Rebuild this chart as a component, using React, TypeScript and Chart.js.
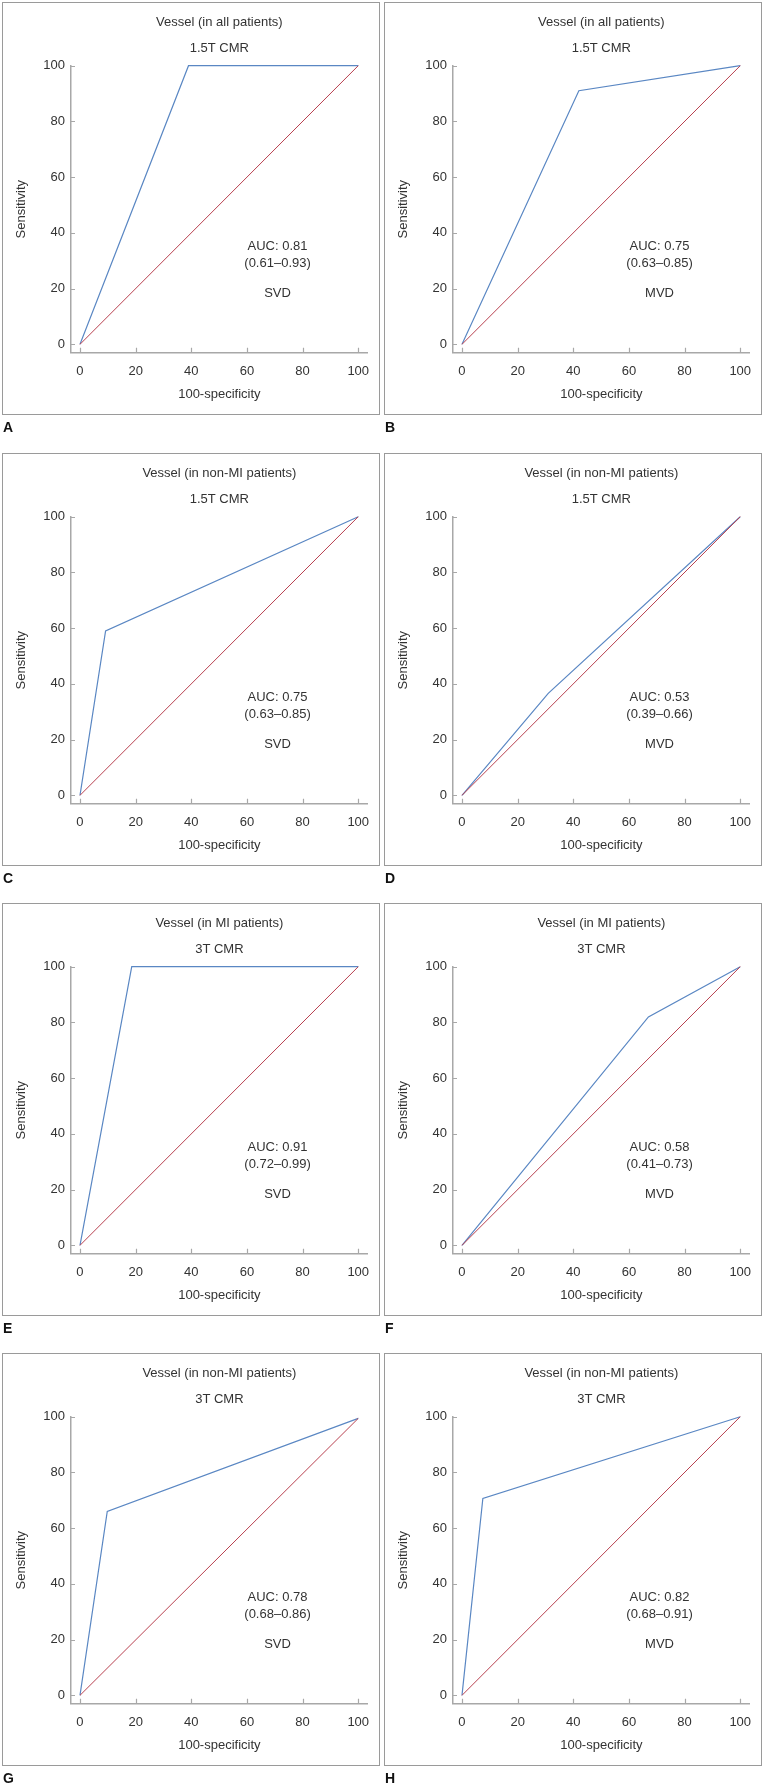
import React, { useEffect, useRef } from 'react';
import { Chart, registerables } from 'chart.js';

Chart.register(...registerables);

// ---------- data ----------
const PANEL_LETTERS = ['A', 'B', 'C', 'D', 'E', 'F', 'G', 'H'];
const TITLES = [
  'Vessel (in all patients)',
  'Vessel (in all patients)',
  'Vessel (in non-MI patients)',
  'Vessel (in non-MI patients)',
  'Vessel (in MI patients)',
  'Vessel (in MI patients)',
  'Vessel (in non-MI patients)',
  'Vessel (in non-MI patients)',
];
const SUBTITLES = ['1.5T CMR', '1.5T CMR', '1.5T CMR', '1.5T CMR', '3T CMR', '3T CMR', '3T CMR', '3T CMR'];
const AUC_LABELS = ['AUC: 0.81', 'AUC: 0.75', 'AUC: 0.75', 'AUC: 0.53', 'AUC: 0.91', 'AUC: 0.58', 'AUC: 0.78', 'AUC: 0.82'];
const CI_LABELS = ['(0.61–0.93)', '(0.63–0.85)', '(0.63–0.85)', '(0.39–0.66)', '(0.72–0.99)', '(0.41–0.73)', '(0.68–0.86)', '(0.68–0.91)'];
const GROUP_LABELS = ['SVD', 'MVD', 'SVD', 'MVD', 'SVD', 'MVD', 'SVD', 'MVD'];

// ROC curve (100-specificity, sensitivity)
const ROC_X = [
  [0, 39, 100],
  [0, 42, 100],
  [0, 9.2, 100],
  [0, 31, 100],
  [0, 18.6, 100],
  [0, 67, 100],
  [0, 9.8, 100],
  [0, 7.5, 100],
];
const ROC_Y = [
  [0, 100, 100],
  [0, 91, 100],
  [0, 59, 100],
  [0, 36.6, 100],
  [0, 100, 100],
  [0, 82, 100],
  [0, 66, 99.4],
  [0, 70.7, 100],
];
// reference (chance) diagonal
const REF_X = [0, 100];
const REF_Y = [
  [0, 100],
  [0, 100],
  [0, 100],
  [0, 100],
  [0, 100],
  [0, 100],
  [0, 99.4],
  [0, 100],
];
const X_TICKS = [0, 20, 40, 60, 80, 100];
const Y_TICKS = [0, 20, 40, 60, 80, 100];
const X_LABEL = '100-specificity';
const Y_LABEL = 'Sensitivity';

// ---------- style / layout ----------
const FAMILY = '"Liberation Sans", Arial, sans-serif';
const TEXT = '#333333';
const AXIS = '#a8a8a8';
const BLUE = '#5a87c3';
const RED = '#b8404f';
const PANEL_W = 378;
const PANEL_H = 413;
const COL_LEFT = [2, 384];
const ROW_TOP = [2, 453, 903, 1353];
const FONT = { family: FAMILY, size: 13, lineHeight: 1.2 };

const inwardTicks = {
  id: 'inwardTicks',
  afterDraw(chart: any) {
    const { ctx, chartArea, scales } = chart;
    ctx.save();
    ctx.strokeStyle = AXIS;
    ctx.lineWidth = 1.2;
    ctx.beginPath();
    scales.x.ticks.forEach((t: any) => {
      const px = Math.round(scales.x.getPixelForValue(t.value)) + 0.5;
      ctx.moveTo(px, chartArea.bottom);
      ctx.lineTo(px, chartArea.bottom - 5);
    });
    scales.y.ticks.forEach((t: any) => {
      const py = Math.round(scales.y.getPixelForValue(t.value)) + 0.5;
      ctx.moveTo(chartArea.left, py);
      ctx.lineTo(chartArea.left + 4, py);
    });
    ctx.stroke();
    ctx.restore();
  },
};

const makeNotes = (index: number) => ({
  id: 'aucNotes',
  afterDatasetsDraw(chart: any) {
    const { ctx, scales } = chart;
    const x = scales.x.getPixelForValue(71);
    ctx.save();
    ctx.fillStyle = TEXT;
    ctx.font = `13px ${FAMILY}`;
    ctx.textAlign = 'center';
    ctx.textBaseline = 'middle';
    ctx.fillText(AUC_LABELS[index], x, scales.y.getPixelForValue(35));
    ctx.fillText(CI_LABELS[index], x, scales.y.getPixelForValue(29.2));
    ctx.fillText(GROUP_LABELS[index], x, scales.y.getPixelForValue(18.1));
    ctx.restore();
  },
});

function RocPanel({ index, left, top }: { index: number; left: number; top: number }) {
  const canvasRef = useRef<HTMLCanvasElement>(null);
  useEffect(() => {
    if (!canvasRef.current) return;
    const rocPts = ROC_X[index].map((x, i) => ({ x, y: ROC_Y[index][i] }));
    const refPts = REF_X.map((x, i) => ({ x, y: REF_Y[index][i] }));
    const chart = new Chart(canvasRef.current, {
      type: 'scatter',
      data: {
        datasets: [
          { data: refPts, showLine: true, borderColor: RED, borderWidth: 1, pointRadius: 0, pointHoverRadius: 0, fill: false, clip: 4 },
          { data: rocPts, showLine: true, borderColor: BLUE, borderWidth: 1.2, pointRadius: 0, pointHoverRadius: 0, fill: false, clip: 4 },
        ],
      },
      options: {
        animation: false,
        responsive: false,
        maintainAspectRatio: false,
        devicePixelRatio: 1,
        events: [],
        layout: { padding: { left: 0, right: 12.3, top: 0, bottom: 0 } },
        plugins: {
          legend: { display: false },
          tooltip: { enabled: false },
          title: {
            display: true,
            text: TITLES[index],
            fullSize: false,
            color: TEXT,
            font: { ...FONT, weight: 'normal' },
            padding: { top: 12.2, bottom: 0 },
          },
          subtitle: {
            display: true,
            text: SUBTITLES[index],
            fullSize: false,
            color: TEXT,
            font: { ...FONT, weight: 'normal' },
            padding: { top: 10.4, bottom: 9.9 },
          },
        },
        scales: {
          x: {
            type: 'linear',
            min: -3.23,
            max: 103.4,
            afterBuildTicks: (s: any) => {
              s.ticks = X_TICKS.map((v) => ({ value: v }));
            },
            afterFit: (s: any) => {
              s.height = 62.3;
            },
            border: { display: true, color: AXIS, width: 1.5 },
            grid: { display: false, drawTicks: false, tickLength: 0 },
            ticks: { padding: 10.5, color: TEXT, font: FONT, maxRotation: 0, autoSkip: false },
            title: { display: true, text: X_LABEL, color: TEXT, font: FONT, padding: { top: 0, bottom: 13.2 } },
          },
          y: {
            type: 'linear',
            min: -3,
            max: 100,
            afterBuildTicks: (s: any) => {
              s.ticks = Y_TICKS.map((v) => ({ value: v }));
            },
            afterFit: (s: any) => {
              s.width = 69;
            },
            border: { display: true, color: AXIS, width: 1.5 },
            grid: { display: false, drawTicks: false, tickLength: 0 },
            ticks: { padding: 6, color: TEXT, font: FONT, autoSkip: false },
            title: { display: true, text: Y_LABEL, color: TEXT, font: FONT, padding: { top: 11.2, bottom: 0 } },
          },
        },
      } as any,
      plugins: [inwardTicks, makeNotes(index)],
    });
    return () => chart.destroy();
  }, [index]);
  return (
    <canvas
      ref={canvasRef}
      width={PANEL_W}
      height={PANEL_H}
      style={{ position: 'absolute', left, top, width: PANEL_W, height: PANEL_H }}
    />
  );
}

export default function App() {
  return (
    <div style={{ position: 'absolute', left: 0, top: 0, width: 764, height: 1787, background: '#ffffff', overflow: 'hidden' }}>
      {PANEL_LETTERS.map((L, i) => {
        const left = COL_LEFT[i % 2];
        const top = ROW_TOP[Math.floor(i / 2)];
        return (
          <React.Fragment key={L}>
            <RocPanel index={i} left={left} top={top} />
            <div
              style={{
                position: 'absolute',
                left,
                top,
                width: PANEL_W,
                height: PANEL_H,
                boxSizing: 'border-box',
                border: '1px solid #9a9a9a',
                pointerEvents: 'none',
              }}
            />
            <div
              style={{
                position: 'absolute',
                left: left + 1,
                top: top + 416,
                fontFamily: FAMILY,
                fontWeight: 'bold',
                fontSize: 14,
                lineHeight: '18px',
                color: '#111111',
              }}
            >
              {L}
            </div>
          </React.Fragment>
        );
      })}
    </div>
  );
}
